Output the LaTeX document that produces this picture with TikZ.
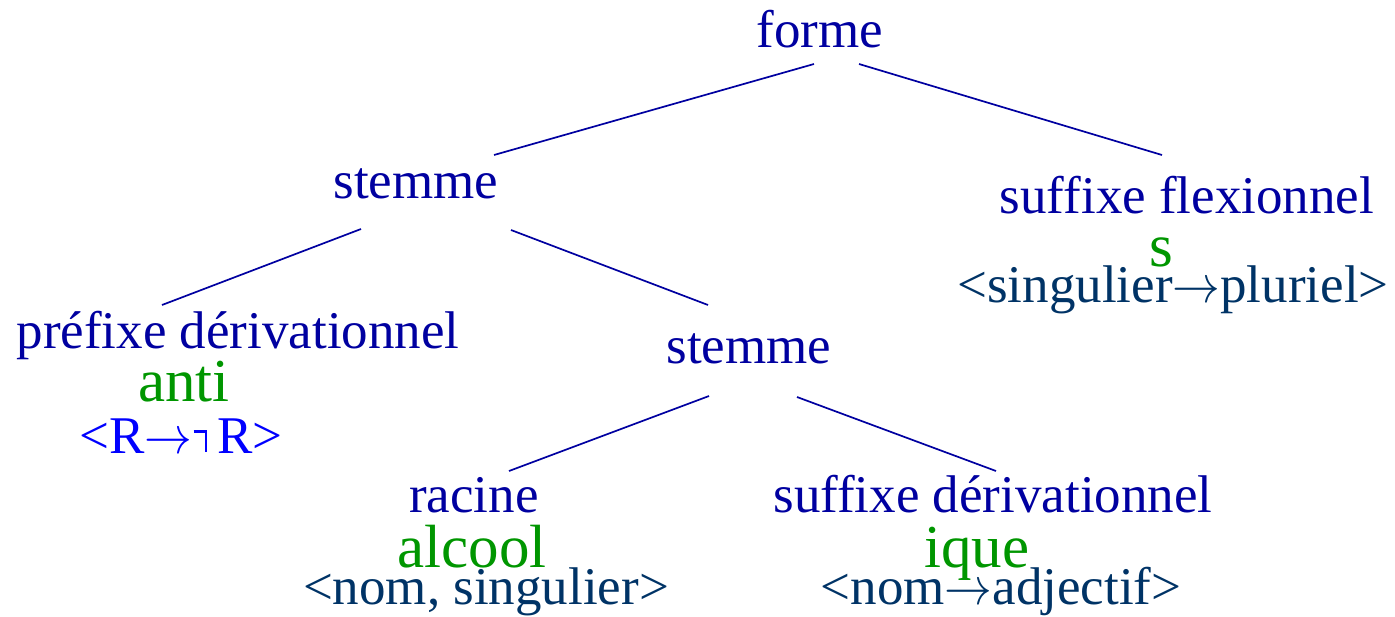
\RequirePackage{fix-cm}
\documentclass[tikz,border=0pt]{standalone}
\usepackage{fontspec}
\usepackage{graphicx}
\setmainfont{Liberation Serif}
\newfontfamily\treefont{Liberation Serif}
\definecolor{navy}{RGB}{0,0,160}
\definecolor{leaf}{RGB}{0,150,0}
\definecolor{feat}{RGB}{0,51,102}
\definecolor{featblue}{RGB}{0,0,255}
\newcommand{\arr}{\scalebox{0.9}[1]{$\rightarrow$}}
% narrow, tall negation sign built from two rules
\newcommand{\negsign}{\hbox{\kern1pt\rule[20.5pt]{11pt}{2.5pt}\rule[1.5pt]{2.5pt}{21.5pt}\kern10pt}}
\tikzset{
  lab/.style={anchor=base, inner sep=0pt, text=navy, font=\treefont\fontsize{53}{60}\selectfont},
  morph/.style={anchor=base, inner sep=0pt, text=leaf, font=\treefont\fontsize{61}{68}\selectfont},
  attr/.style={anchor=base, inner sep=0pt, text=feat, font=\treefont\fontsize{53}{60}\selectfont},
  branch/.style={draw=navy, line width=1.7pt},
}
\begin{document}
\begin{tikzpicture}[x=1pt, y=-1pt]
\useasboundingbox (0,0) rectangle (1395,616);

% category labels
\node[lab] (forme) at (820,47) {forme};
\node[lab] (stem1) at (416,198) {stemme};
\node[lab] (sflex) at (1187,213) {suffixe flexionnel};
\node[lab] (pref) at (238,348) {préfixe dérivationnel};
\node[lab] (stem2) at (749,363) {stemme};
\node[lab] (rac) at (474,512) {racine};
\node[lab] (sder) at (993,512) {suffixe dérivationnel};

% morphs
\node[morph] (s) at (1161,266) {s};
\node[morph] (anti) at (184,401) {anti};
\node[morph] (alcool) at (472,567) {alcool};
\node[morph] (ique) at (977,567) {ique};

% features
\node[attr] (fflex) at (1173,302) {<singulier\arr pluriel>};
\node[attr, text=featblue] (fpref) at (181,453) {<R\arr\negsign R>};
\node[attr] (frac) at (486,604) {<nom, singulier>};
\node[attr] (fsder) at (1001,604) {<nom\arr adjectif>};

% branch ends
\coordinate (forme-l) at ([shift={(-6,17)}]forme.base);
\coordinate (forme-r) at ([shift={(39,17)}]forme.base);
\coordinate (stem1-t) at ([shift={(78,-43)}]stem1.base);
\coordinate (sflex-t) at ([shift={(-25,-58)}]sflex.base);
\coordinate (stem1-l) at ([shift={(-55,31)}]stem1.base);
\coordinate (stem1-r) at ([shift={(95,32)}]stem1.base);
\coordinate (pref-t) at ([shift={(-76,-43)}]pref.base);
\coordinate (stem2-t) at ([shift={(-41,-58)}]stem2.base);
\coordinate (stem2-l) at ([shift={(-40,33)}]stem2.base);
\coordinate (stem2-r) at ([shift={(48,34)}]stem2.base);
\coordinate (rac-t) at ([shift={(35,-41)}]rac.base);
\coordinate (sder-t) at ([shift={(3,-41)}]sder.base);

\draw[branch] (forme-l) -- (stem1-t);
\draw[branch] (forme-r) -- (sflex-t);
\draw[branch] (stem1-l) -- (pref-t);
\draw[branch] (stem1-r) -- (stem2-t);
\draw[branch] (stem2-l) -- (rac-t);
\draw[branch] (stem2-r) -- (sder-t);
\end{tikzpicture}
\end{document}
